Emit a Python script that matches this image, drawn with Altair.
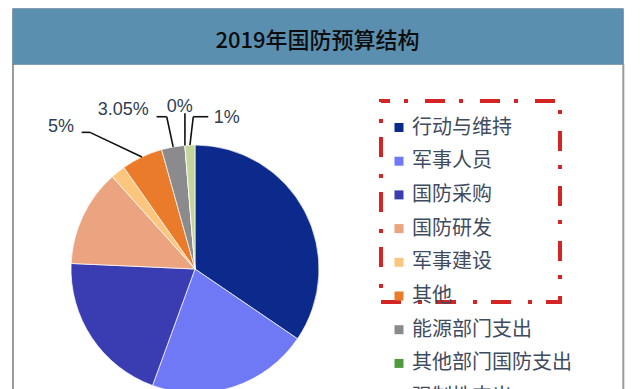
import altair as alt
import pandas as pd

# ---------------- data ----------------
TITLE = "2019年国防预算结构"
categories = ["行动与维持", "军事人员", "国防采购", "国防研发", "军事建设",
              "其他", "能源部门支出", "其他部门国防支出", "强制性支出"]
values = [34.6, 21.1, 20.2, 12.7, 1.9, 5.4, 3.05, 0.0, 1.3]
pct_labels = ["", "", "", "", "", "5%", "3.05%", "0%", "1%"]
colors = ["#0b2a8c", "#6f79f6", "#3a3db2", "#eba47f", "#fdc67e",
          "#e97b2b", "#8b8b8e", "#4f9a3c", "#c3d59b"]

# ---------------- layout (pixels / pie-radius units) ----------------
W, H = 624, 381
CX, CY, R = 187, 261, 124

# label anchor (t), leader elbow (e) and leader end (f), in pie-radius units
label_layout = pd.DataFrame({
    "category": ["其他", "能源部门支出", "其他部门国防支出", "强制性支出"],
    "tx": [-1.081, -0.578, -0.123, 0.256],
    "ty": [1.149, 1.280, 1.310, 1.214],
    "ex": [-0.847, -0.228, -0.081, -0.014],
    "ey": [1.102, 1.228, 1.256, 1.228],
    "fx": [-0.914, -0.310, -0.081, 0.107],
    "fy": [1.102, 1.228, 1.256, 1.228],
})

df = pd.DataFrame({"category": categories, "value": values,
                   "idx": list(range(len(categories))), "label": pct_labels})

one = pd.DataFrame({"t": [TITLE]})

xs = alt.Scale(domain=[-CX / R, (W - CX) / R], nice=False, zero=False)
ys = alt.Scale(domain=[(CY - H) / R, CY / R], nice=False, zero=False)

header = alt.Chart(one).mark_rect(fill="#5b8fb0", stroke="#6f8da3", strokeWidth=1).encode(
    x=alt.value(4.7), x2=alt.value(615.3), y=alt.value(0.7), y2=alt.value(56.3))

left_border = alt.Chart(one).mark_rule(color="#7a7a7a", strokeWidth=1.5).encode(
    x=alt.value(5), y=alt.value(56), y2=alt.value(H))
right_border = alt.Chart(one).mark_rule(color="#9a9a9a", strokeWidth=2).encode(
    x=alt.value(615.3), y=alt.value(56), y2=alt.value(H))

title = alt.Chart(one).mark_text(font="Noto Sans CJK SC", fontSize=22, fontWeight=500,
                                 color="#0d0d0d", align="center", baseline="middle").encode(
    text="t:N", x=alt.value(309.5), y=alt.value(32.5))

pie = alt.Chart(df).mark_arc(outerRadius=R, stroke="white", strokeWidth=0.7).encode(
    theta=alt.Theta("value:Q", stack=True),
    color=alt.Color("category:N",
                    scale=alt.Scale(domain=categories, range=colors),
                    sort=categories,
                    legend=alt.Legend(orient="none", legendX=381, legendY=109.5, title=None,
                                      symbolType="square", symbolSize=81, symbolStrokeWidth=0,
                                      labelFont="Noto Sans CJK SC", labelFontSize=20,
                                      labelColor="#3f4b5e", labelOffset=3, rowPadding=13.7,
                                      labelLimit=300, padding=0)),
    order=alt.Order("idx:Q"),
    x=alt.value(CX), y=alt.value(CY))

box = alt.Chart(one).mark_rect(filled=False, stroke="#d42424", strokeWidth=4,
                               strokeDash=[20, 14, 4, 17], strokeDashOffset=11).encode(
    x=alt.value(373), x2=alt.value(552), y=alt.value(93), y2=alt.value(294))

geo = (alt.Chart(df)
       .transform_window(cum="sum(value)", sort=[alt.SortField("idx")], frame=[None, 0])
       .transform_joinaggregate(total="sum(value)")
       .transform_calculate(mid="(datum.cum - datum.value / 2) / datum.total * 2 * PI")
       .transform_calculate(x0="sin(datum.mid)", y0="cos(datum.mid)")
       .transform_lookup(lookup="category",
                         from_=alt.LookupData(alt.Data(values=label_layout.to_dict("records")),
                                              "category", ["tx", "ty", "ex", "ey", "fx", "fy"]))
       .transform_filter("isValid(datum.tx)"))

seg1 = geo.mark_rule(color="#111111", strokeWidth=1.6).encode(
    x=alt.X("x0:Q", scale=xs, axis=None), y=alt.Y("y0:Q", scale=ys, axis=None),
    x2="ex:Q", y2="ey:Q")
seg2 = geo.mark_rule(color="#111111", strokeWidth=1.6).encode(
    x=alt.X("ex:Q", scale=xs, axis=None), y=alt.Y("ey:Q", scale=ys, axis=None),
    x2="fx:Q", y2="fy:Q")
labels = geo.mark_text(font="Liberation Sans", fontSize=18, color="#2f3d52",
                       align="center", baseline="middle").encode(
    x=alt.X("tx:Q", scale=xs, axis=None), y=alt.Y("ty:Q", scale=ys, axis=None),
    text="label:N")

chart = alt.layer(header, left_border, right_border, pie, box, seg1, seg2, labels, title).properties(
    width=W, height=H, padding=0, background="white",
    autosize=alt.AutoSizeParams(type="none")
).configure_view(stroke=None)

chart.save("out.html", embed_options={"renderer": "svg", "actions": False})
